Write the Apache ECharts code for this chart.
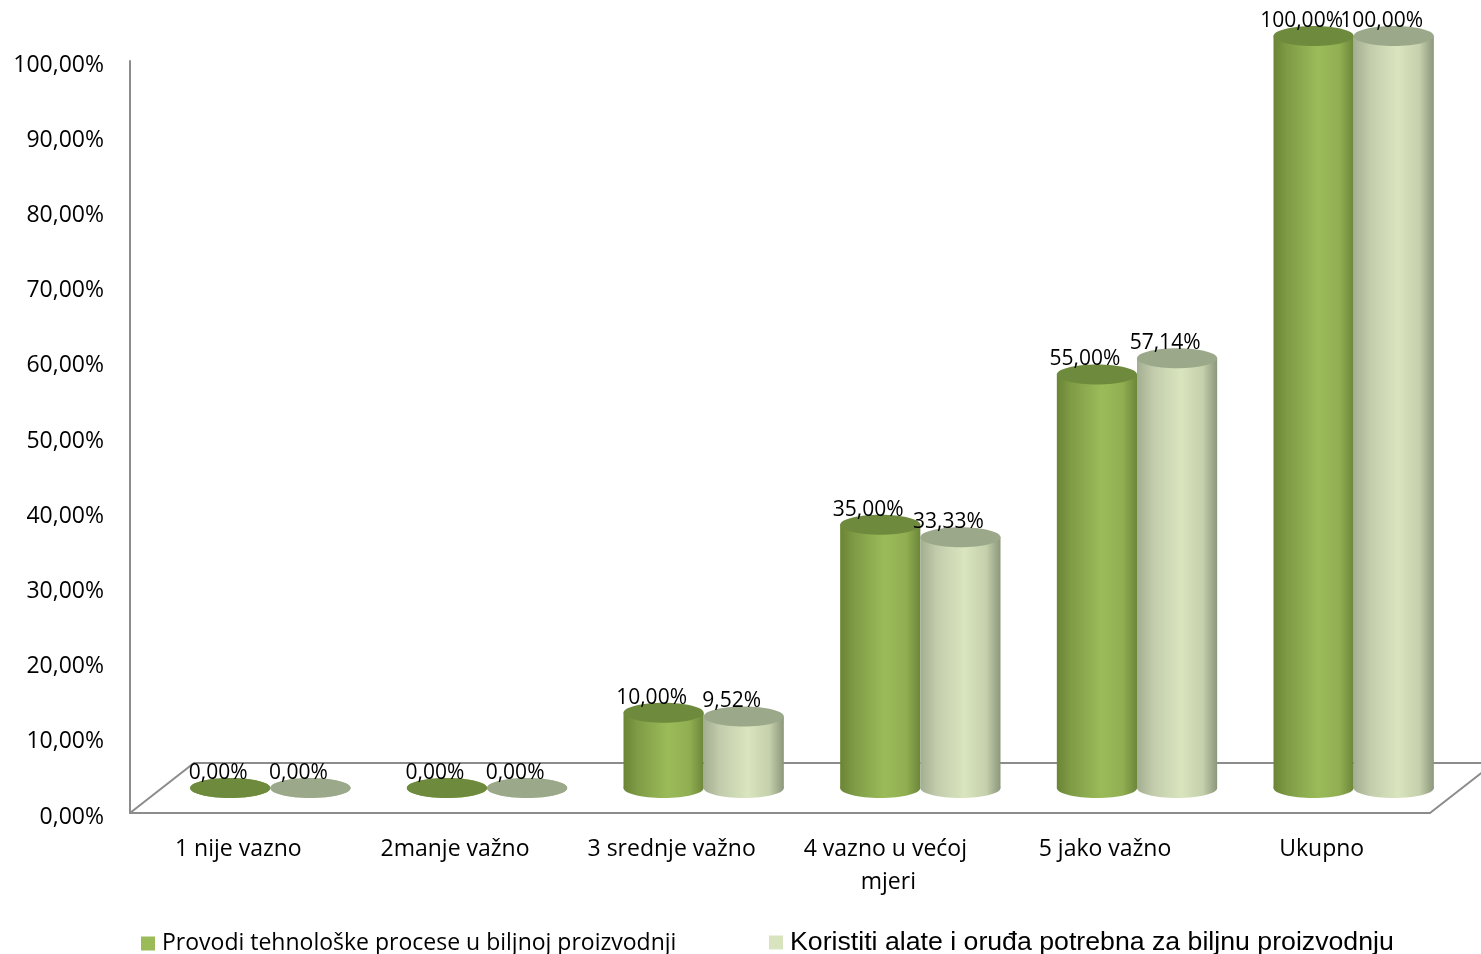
<!DOCTYPE html>
<html>
<head>
<meta charset="utf-8">
<script src="https://cdn.jsdelivr.net/npm/echarts@6/dist/echarts.min.js"></script>
<style>
html,body{margin:0;padding:0;background:#fff;}
#chart{width:1481px;height:954px;}
</style>
</head>
<body>
<div id="chart"></div>
<script>
const categories = ['1 nije vazno', '2manje važno', '3 srednje važno', '4 vazno u većoj mjeri', '5 jako važno', 'Ukupno'];
const seriesNames = ['Provodi tehnološke procese u biljnoj proizvodnji', 'Koristiti alate i oruđa potrebna za biljnu proizvodnju'];
const valuesA = [0, 0, 10, 35, 55, 100];
const valuesB = [0, 0, 9.52, 33.33, 57.14, 100];
const yMin = 0, yMax = 100, yInterval = 10;

const DX = 64, DY = -50;          // floor depth offset
const DXM = DX / 2, DYM = DY / 2; // mid-depth where cylinders stand
const FONT = '"Open Sans", "Noto Sans", sans-serif';

const styles = [
  {
    legend: '#9bbb59',
    top: '#6e8a3d',
    body: [[0, '#6a8535'], [0.18, '#7f9c46'], [0.55, '#9bbb59'], [0.82, '#91af52'], [1, '#6c873a']]
  },
  {
    legend: '#d7e4bd',
    top: '#9ba98a',
    body: [[0, '#a3ad90'], [0.2, '#c2ccac'], [0.55, '#d9e5be'], [0.82, '#c5d0ac'], [1, '#8b967c']]
  }
];

function fmt(v) { return v.toFixed(2).replace('.', ',') + '%'; }

function grad(stops) {
  return new echarts.graphic.LinearGradient(0, 0, 1, 0, stops.map(s => ({offset: s[0], color: s[1]})));
}

function makeBarRender(sIdx) {
  return function (params, api) {
    const c = api.value(0), v = api.value(1);
    const base = api.coord([c, 0]);
    const top = api.coord([c, v]);
    const band = api.size([1, 0])[0];
    const w = band * 0.37;
    const rx = w / 2, ry = 10;
    const cx = base[0] + DXM + (sIdx === 0 ? -w / 2 : w / 2);
    const yb = base[1] + DYM, yt = top[1] + DYM;
    const st = styles[sIdx];
    const children = [
      {type: 'ellipse', shape: {cx: cx, cy: yb, rx: rx, ry: ry}, style: {fill: grad(st.body)}},
      {type: 'rect', shape: {x: cx - rx, y: yt, width: w, height: Math.max(0, yb - yt)}, style: {fill: grad(st.body)}},
      {type: 'ellipse', shape: {cx: cx, cy: yt, rx: rx, ry: ry}, style: {fill: st.top}},
      {type: 'text', style: {text: fmt(v), x: cx - 12, y: yt - 15, textAlign: 'center', textVerticalAlign: 'middle', font: '21px ' + FONT, fill: '#000'}}
    ];
    return {type: 'group', children: children};
  };
}

function floorRender(params, api) {
  const band = api.size([1, 0])[0];
  const p0 = api.coord([0, 0]);
  const pN = api.coord([categories.length - 1, 0]);
  const left = p0[0] - band / 2, right = pN[0] + band / 2, y = p0[1];
  return {
    type: 'polyline',
    shape: {points: [[left, y], [left + DX, y + DY], [right + DX, y + DY], [right, y]]},
    style: {stroke: '#8c8c8c', lineWidth: 2, fill: null}
  };
}

const chart = echarts.init(document.getElementById('chart'));
chart.setOption({
  animation: false,
  backgroundColor: '#fff',
  grid: {left: 130, right: 51, top: 61, bottom: 141, containLabel: false},
  xAxis: {
    type: 'category',
    data: categories,
    boundaryGap: true,
    axisLine: {show: true, lineStyle: {color: '#8c8c8c', width: 2}},
    axisTick: {show: false},
    axisLabel: {
      color: '#000', fontFamily: FONT, fontSize: 23, margin: 20, lineHeight: 33,
      width: 195, overflow: 'break', interval: 0
    },
    splitLine: {show: false}
  },
  yAxis: {
    type: 'value',
    min: yMin, max: yMax, interval: yInterval,
    axisLine: {show: true, lineStyle: {color: '#8c8c8c', width: 2}},
    axisTick: {show: false},
    splitLine: {show: false},
    axisLabel: {
      margin: 26,
      formatter: v => '{t|' + fmt(v) + '}',
      rich: {t: {color: '#000', fontFamily: FONT, fontSize: 23, padding: [8, 0, 0, 0]}}
    }
  },
  legend: [
    {
      data: [seriesNames[0]], left: 141, top: 932, padding: 0, itemWidth: 14, itemHeight: 14, icon: 'rect', itemGap: 0,
      textStyle: {color: '#000', fontFamily: FONT, fontSize: 23, padding: [0, 0, 0, 2]}
    },
    {
      data: [seriesNames[1]], left: 769, top: 929, padding: 0, itemWidth: 14, itemHeight: 14, icon: 'rect', itemGap: 0,
      textStyle: {color: '#000', fontFamily: '"Liberation Sans Narrow", "Liberation Sans", sans-serif', fontSize: 26.7, padding: [0, 0, 0, 2]}
    }
  ],
  series: [
    {
      type: 'custom', name: 'floor', clip: false, silent: true,
      data: [[0, 0]], encode: {x: 0, y: 1}, renderItem: floorRender, z: 1
    },
    {
      type: 'custom', name: seriesNames[0], clip: false,
      itemStyle: {color: styles[0].legend},
      data: valuesA.map((v, i) => [i, v]), encode: {x: 0, y: 1},
      renderItem: makeBarRender(0), z: 2
    },
    {
      type: 'custom', name: seriesNames[1], clip: false,
      itemStyle: {color: styles[1].legend},
      data: valuesB.map((v, i) => [i, v]), encode: {x: 0, y: 1},
      renderItem: makeBarRender(1), z: 3
    }
  ]
});
</script>
</body>
</html>
